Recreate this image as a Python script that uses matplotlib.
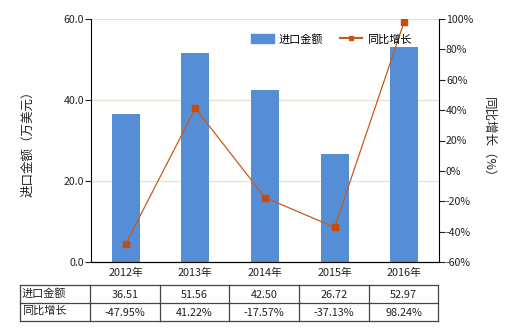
import matplotlib
matplotlib.use("Agg")
import matplotlib.pyplot as plt
from matplotlib.lines import Line2D
from matplotlib.patches import Patch

plt.rcParams['font.family'] = ['Noto Sans CJK SC', 'DejaVu Sans']

years = ["2012年", "2013年", "2014年", "2015年", "2016年"]
amounts = [36.51, 51.56, 42.50, 26.72, 52.97]
growth = [-47.95, 41.22, -17.57, -37.13, 98.24]
amount_labels = ["36.51", "51.56", "42.50", "26.72", "52.97"]
growth_labels = ["-47.95%", "41.22%", "-17.57%", "-37.13%", "98.24%"]
row_names = ["进口金额", "同比增长"]

W, H = 520, 330
fig = plt.figure(figsize=(W / 100, H / 100), dpi=100)

def fx(px):
    return px / W

def fy(py):
    return 1 - py / H

left, right, top, bottom = 91, 439, 19, 262
ax = fig.add_axes([fx(left), fy(bottom), fx(right - left), (bottom - top) / H])
x = list(range(len(years)))
bar_color = "#558ed5"
line_color = "#c65a1e"
ax.bar(x, amounts, width=0.4, color=bar_color, zorder=2)
ax.set_xlim(-0.5, 4.5)
ax.set_ylim(0, 60)
ax.set_yticks([0, 20, 40, 60])
ax.set_yticklabels(["0.0", "20.0", "40.0", "60.0"])
ax.grid(axis='y', color="#e6e2d2", linewidth=0.9, zorder=0)
ax.set_axisbelow(True)
ax.set_xticks(x)
ax.set_xticklabels(years)
ax.tick_params(axis='x', length=0, pad=4, labelsize=7.8, colors="#222222")
ax.tick_params(axis='y', length=4, width=0.8, labelsize=7.6, colors="#222222", pad=1)
ax.spines["top"].set_visible(False)
ax.spines["right"].set_visible(False)
ax.set_ylabel("进口金额（万美元）", fontsize=9, color="#222222", labelpad=21)

ax2 = ax.twinx()
ax2.plot(x, growth, color=line_color, linewidth=0.9, marker='s', markersize=4,
         markerfacecolor="#c84b0a", markeredgecolor="#c84b0a", zorder=3)
ax2.set_ylim(-60, 100)
ax2.set_yticks(range(-60, 101, 20))
ax2.set_yticklabels([f"{v}%" for v in range(-60, 101, 20)])
ax2.tick_params(axis='y', length=4, width=0.8, labelsize=7.6, colors="#222222", pad=1)
ax2.spines["top"].set_visible(False)
ax2.spines["left"].set_visible(False)
ax2.set_ylabel("同比增长（%）", fontsize=9, color="#222222", rotation=270, labelpad=16)

handles = [Patch(color=bar_color, label="进口金额"),
           Line2D([0], [0], color=line_color, marker='s', markersize=3.5, linewidth=1.5,
                  markerfacecolor="#c84b0a", label="同比增长")]
ax2.legend(handles=handles, loc="upper right", bbox_to_anchor=(0.95, 0.98), ncol=2,
           frameon=False, fontsize=8, handlelength=2.0, handleheight=0.9,
           columnspacing=1.5, handletextpad=0.45)

# table
tax = fig.add_axes([0, 0, 1, 1])
tax.set_xlim(0, W)
tax.set_ylim(H, 0)
tax.axis('off')
cols = [20, 90, 160, 229, 299, 369, 438]
rows = [285, 303, 321]
lc = "#444444"
for r in rows:
    tax.plot([cols[0], cols[-1]], [r, r], color=lc, linewidth=0.9)
for c in cols:
    tax.plot([c, c], [rows[0], rows[-1]], color=lc, linewidth=0.9)
for ri, (name, vals) in enumerate(zip(row_names, [amount_labels, growth_labels])):
    yc = (rows[ri] + rows[ri + 1]) / 2
    tax.text(cols[0] + 2, yc - 1, name, fontsize=8, va='center', ha='left', color="#222222")
    for ci, v in enumerate(vals):
        xc = (cols[ci + 1] + cols[ci + 2]) / 2
        tax.text(xc, yc + 1, v, fontsize=7.8, va='center', ha='center', color="#222222")

fig.savefig("out.png", dpi=100)
